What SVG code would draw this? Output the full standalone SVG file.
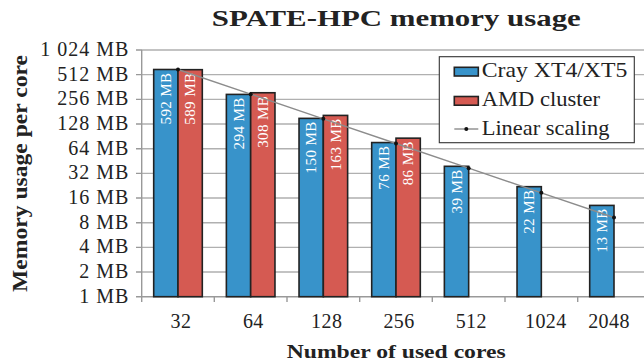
<svg xmlns="http://www.w3.org/2000/svg" width="644" height="363" viewBox="0 0 644 363">
<style>
text{font-family:"Liberation Serif","Times New Roman",serif;fill:#222}
.grid{stroke:#b0b0b0;stroke-width:1.4;fill:none}
.axis{stroke:#999;stroke-width:1.4;fill:none}
.ytl{font-size:20px;text-anchor:end;letter-spacing:1px}
.xtl{font-size:20px;text-anchor:middle;letter-spacing:0.4px}
.blue{fill:#3893ca;stroke:#222;stroke-width:1.6}
.red{fill:#d55a52;stroke:#222;stroke-width:1.6}
.bl{font-size:15px;fill:#fff;text-anchor:end;letter-spacing:0.4px}
.lin{stroke:#8c8c8c;stroke-width:1.4;fill:none}
.dot{fill:#111}
.bold{font-weight:bold}
.leg{font-size:21px}
</style>
<rect width="644" height="363" fill="#fff"/>
<g id="title"><text class="bold" x="396.3" y="25.5" font-size="24" text-anchor="middle" textLength="369" lengthAdjust="spacingAndGlyphs">SPATE-HPC memory usage</text></g>
<g id="grid">
<path class="grid" d="M142 272.03H644M142 247.36H644M142 222.69H644M142 198.02H644M142 173.35H644M142 148.68H644M142 124.01H644M142 99.34H644M142 74.67H644M142 50H644"/>
<path class="axis" d="M136 296.7H644M136 272.03H142M136 247.36H142M136 222.69H142M136 198.02H142M136 173.35H142M136 148.68H142M136 124.01H142M136 99.34H142M136 74.67H142M136 50H142M141.7 50V302M214.3 296.7V302M287 296.7V302M359.7 296.7V302M432.3 296.7V302M505 296.7V302M577.7 296.7V302"/>
</g>
<g id="y-axis">
<text class="ytl" x="129.3" y="302.7">1 MB</text>
<text class="ytl" x="129.3" y="278">2 MB</text>
<text class="ytl" x="129.3" y="253.4">4 MB</text>
<text class="ytl" x="129.3" y="228.7">8 MB</text>
<text class="ytl" x="129.3" y="204">16 MB</text>
<text class="ytl" x="129.3" y="179.4">32 MB</text>
<text class="ytl" x="129.3" y="154.7">64 MB</text>
<text class="ytl" x="129.3" y="130">128 MB</text>
<text class="ytl" x="129.3" y="105.3">256 MB</text>
<text class="ytl" x="129.3" y="80.7">512 MB</text>
<text class="ytl" x="129.3" y="56">1 024 MB</text>
<text class="bold" transform="translate(27,173.5) rotate(-90)" font-size="20" text-anchor="middle" textLength="237" lengthAdjust="spacingAndGlyphs">Memory usage per core</text>
</g>
<g id="x-axis">
<text class="xtl" x="181" y="328">32</text>
<text class="xtl" x="253.3" y="328">64</text>
<text class="xtl" x="326.7" y="328">128</text>
<text class="xtl" x="399" y="328">256</text>
<text class="xtl" x="471.3" y="328">512</text>
<text class="xtl" x="545.8" y="328">1024</text>
<text class="xtl" x="609" y="328">2048</text>
<text class="bold" x="396.2" y="358" font-size="19" text-anchor="middle" textLength="219" lengthAdjust="spacingAndGlyphs">Number of used cores</text>
</g>
<g id="bars-cray">
<rect class="blue" x="153.7" y="69.5" width="24.3" height="227.2"/>
<rect class="blue" x="226.37" y="94.41" width="24.3" height="202.29"/>
<rect class="blue" x="299.03" y="118.37" width="24.3" height="178.33"/>
<rect class="blue" x="371.7" y="142.56" width="24.3" height="154.14"/>
<rect class="blue" x="444.37" y="166.31" width="24.3" height="130.39"/>
<rect class="blue" x="517.03" y="186.69" width="24.3" height="110.01"/>
<rect class="blue" x="589.7" y="205.41" width="24.3" height="91.29"/>
</g>
<g id="bars-amd">
<rect class="red" x="178" y="69.68" width="24.3" height="227.02"/>
<rect class="red" x="250.67" y="92.76" width="24.3" height="203.94"/>
<rect class="red" x="323.33" y="115.41" width="24.3" height="181.29"/>
<rect class="red" x="396" y="138.16" width="24.3" height="158.54"/>
</g>
<g id="bar-labels">
<text class="bl" transform="translate(170.9,72.5) rotate(-90)">592 MB</text>
<text class="bl" transform="translate(195.2,72.7) rotate(-90)">589 MB</text>
<text class="bl" transform="translate(243.5,97.4) rotate(-90)">294 MB</text>
<text class="bl" transform="translate(267.8,95.8) rotate(-90)">308 MB</text>
<text class="bl" transform="translate(316.2,121.4) rotate(-90)">150 MB</text>
<text class="bl" transform="translate(340.5,118.4) rotate(-90)">163 MB</text>
<text class="bl" transform="translate(388.9,145.6) rotate(-90)">76 MB</text>
<text class="bl" transform="translate(413.2,141.2) rotate(-90)">86 MB</text>
<text class="bl" transform="translate(461.5,169.3) rotate(-90)">39 MB</text>
<text class="bl" transform="translate(534.2,189.7) rotate(-90)">22 MB</text>
<text class="bl" transform="translate(606.9,208.4) rotate(-90)">13 MB</text>
</g>
<g id="connectors">
<polyline class="lin" points="178,69.5 250.67,94.17 323.33,118.84 396,143.51 468.67,168.18 541.33,192.85 614,217.52"/>
<circle class="dot" cx="178" cy="69.5" r="2"/>
<circle class="dot" cx="250.67" cy="94.17" r="2"/>
<circle class="dot" cx="323.33" cy="118.84" r="2"/>
<circle class="dot" cx="396" cy="143.51" r="2"/>
<circle class="dot" cx="468.67" cy="168.18" r="2"/>
<circle class="dot" cx="541.33" cy="192.85" r="2"/>
<circle class="dot" cx="614" cy="217.52" r="2"/>
</g>
<g id="legend">
<rect x="439.3" y="56.7" width="195" height="86" fill="#fff" stroke="#333" stroke-width="1.1"/>
<rect class="blue" x="454.3" y="67.3" width="24" height="8.7"/>
<text class="leg" x="481.7" y="77.3" textLength="145.7" lengthAdjust="spacingAndGlyphs">Cray XT4/XT5</text>
<rect class="red" x="454.3" y="96.5" width="24" height="8.7"/>
<text class="leg" x="481.7" y="106" textLength="118.3" lengthAdjust="spacingAndGlyphs">AMD cluster</text>
<path class="lin" d="M454.3 129H478.3"/>
<circle class="dot" cx="466.3" cy="129" r="2"/>
<text class="leg" x="481.7" y="135" textLength="127.7" lengthAdjust="spacingAndGlyphs">Linear scaling</text>
</g>
</svg>
